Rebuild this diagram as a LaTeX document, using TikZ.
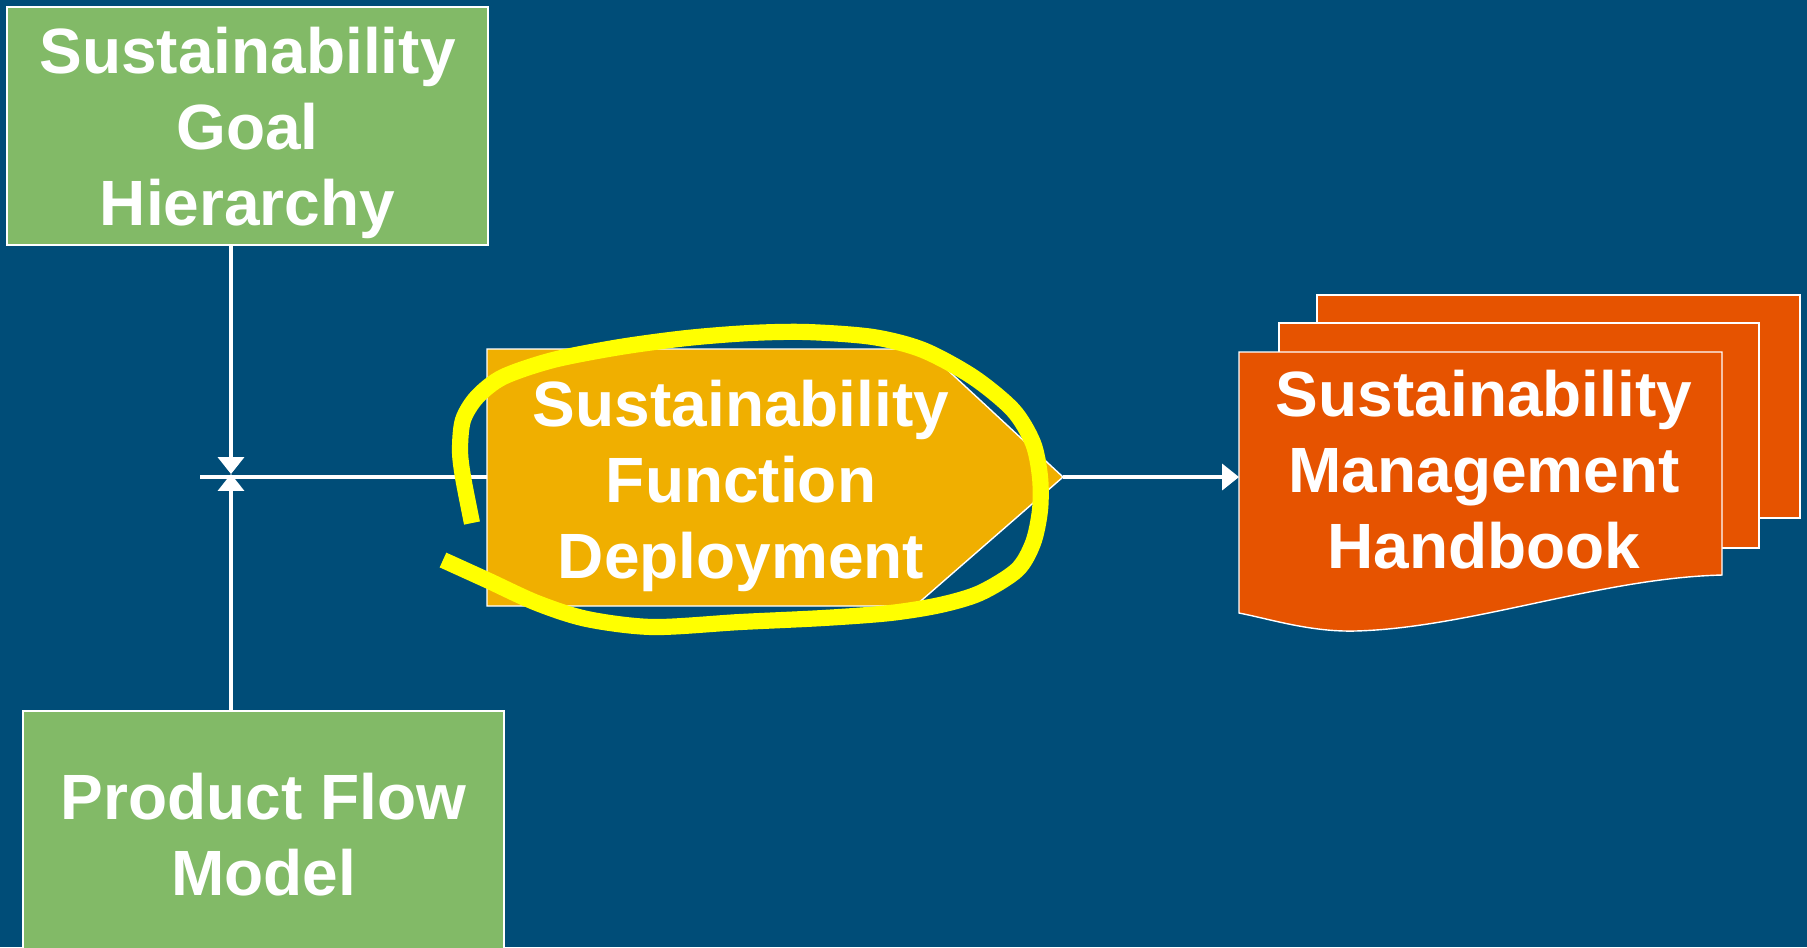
\documentclass[tikz,border=0pt]{standalone}
\usepackage{fontspec}
\setmainfont{Liberation Sans}
\usetikzlibrary{arrows.meta}
\definecolor{bgblue}{HTML}{004D78}
\definecolor{leafgreen}{HTML}{82BA67}
\definecolor{amber}{HTML}{F0AF00}
\definecolor{rust}{HTML}{E65300}
\definecolor{marker}{HTML}{FFFF00}

\begin{document}
\begin{tikzpicture}[x=0.01cm,y=-0.01cm,
  lbl/.style={text=white, font=\bfseries\fontsize{18.2}{21.6}\selectfont, align=center},
  greenbox/.style={draw=white, line width=0.4pt, fill=leafgreen, inner sep=0pt},
  link/.style={draw=white, line width=0.9pt},
  tip/.style={-{Triangle[width=7.4pt,length=4.8pt]}},
  sheet/.style={draw=white, line width=0.4pt, fill=rust},
]
\fill[bgblue] (0,0) rectangle (1807,947);
\useasboundingbox (0,0) rectangle (1807,947);
\clip (0,0) rectangle (1807,947);

% inputs
\node[greenbox, minimum width=4.81cm, minimum height=2.38cm] (goal) at (247.5,126) {};
\node[lbl] (goalText) at (247.5,133) {Sustainability\\Goal\\Hierarchy};
\node[greenbox, minimum width=4.81cm, minimum height=2.44cm] (flow) at (263.5,833) {};
\node[lbl] (flowText) at (263.5,835) {Product Flow\\Model};

% process step (pentagon arrow)
\draw[fill=amber, draw=white, line width=0.4pt]
  (487,349) -- (925,349) -- (1063,477) -- (915,606) -- (487,606) -- cycle;
\node[lbl] (sfd) at (741,486) {Sustainability\\Function\\Deployment};
\coordinate (sfdW) at (487,477);
\coordinate (sfdE) at (1063,477);

% output document stack
\draw[sheet] (1317,295) rectangle (1800,518);
\draw[sheet] (1279,323) rectangle (1759,548);
\draw[sheet] (1239,352) -- (1722,352) -- (1722,575)
  .. controls (1600,578) and (1470,628) .. (1355,631)
  .. controls (1310,632) and (1270,619) .. (1239,613) -- cycle;
\node[lbl] (smh) at (1484,470) {Sustainability\\Management\\Handbook};
\coordinate (smhW) at (1239,477);

% connectors
\coordinate (J) at (231,474);
\coordinate (Jl) at (200,477);
\draw[link, tip] (goal.south -| J) -- (J);
\draw[link, tip] (flow.north -| J) -- (J);
\draw[link] (Jl) -- (sfdW);
\draw[link, tip] (sfdE) -- (smhW);

% hand-drawn highlight
\draw[marker, line width=4.6pt, line cap=butt] plot[smooth, tension=0.5] coordinates {
  (472,523) (463,477) (460,450) (463,420) (477,397) (503,377) (553,360)
  (620,347) (687,338) (750,333) (807,332) (873,337) (923,350) (973,377)
  (1013,410) (1033,443) (1040,477) (1040,510) (1033,543) (1017,570)
  (980,593) (940,605) (890,613) (823,618) (740,622) (653,627) (587,619)
  (537,603) (487,580) (443,560)};
\end{tikzpicture}
\end{document}
